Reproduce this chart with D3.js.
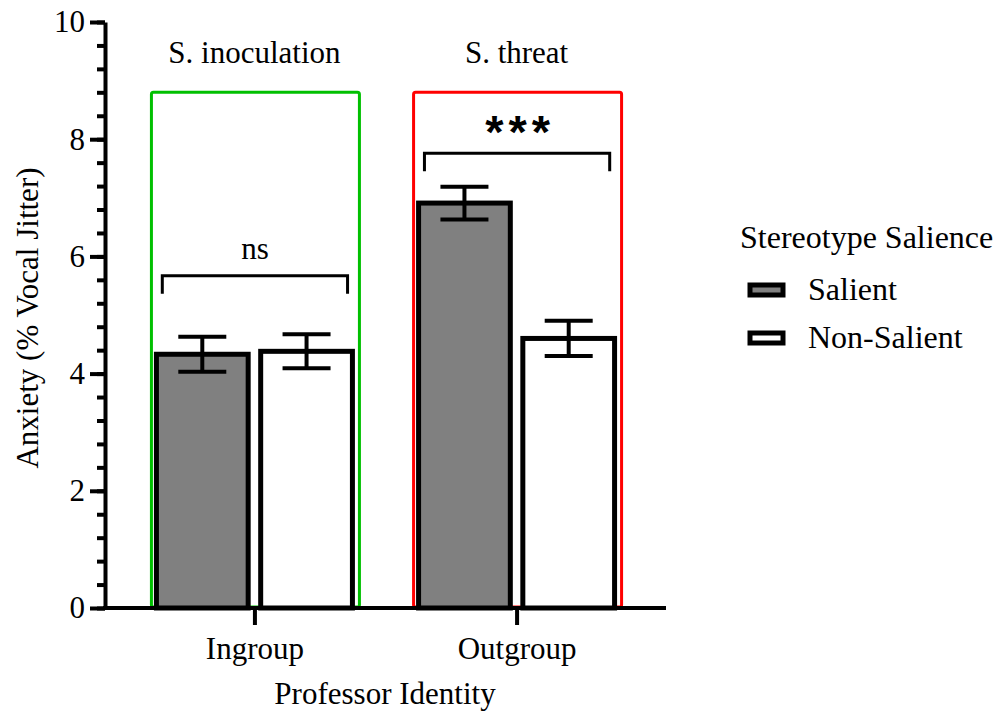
<!DOCTYPE html>
<html>
<head>
<meta charset="utf-8">
<script src="https://cdn.jsdelivr.net/npm/d3@7"></script>
<style>
  body { margin: 0; background: #fff; }
  svg { font-family: "Liberation Serif", "Times New Roman", serif; }
</style>
</head>
<body>
<div id="chart"></div>
<script>
// Data
const groups = ["Ingroup", "Outgroup"];
const conditions = ["Salient", "Non-Salient"];
const means = [[4.33, 4.38], [6.91, 4.60]];
const errors = [[0.30, 0.29], [0.28, 0.30]];
const groupTitles = ["S. inoculation", "S. threat"];
const sigLabels = ["ns", "***"];
const sigLevels = [5.67, 7.76];
const boxTop = 8.8;
const yTicks = [0, 2, 4, 6, 8, 10];

const width = 995, height = 711;
const fills = { "Salient": "#808080", "Non-Salient": "#ffffff" };
const boxColors = ["#00c000", "#ff0000"];
const serif = "'Liberation Serif', 'Times New Roman', serif";
const fs = "31px";

const svg = d3.select("#chart").append("svg")
    .attr("width", width)
    .attr("height", height);

// Scales
const y = d3.scaleLinear().domain([0, 10]).range([608, 22]);
const x = d3.scalePoint().domain(groups).range([105, 666]).padding(0.57);
const xSub = d3.scaleBand().domain(conditions).range([-98, 98]).paddingInner(0.12);

// Highlight boxes round each group
svg.append("g").selectAll("rect")
    .data(groups)
    .enter().append("rect")
    .attr("x", d => x(d) - 103)
    .attr("y", y(boxTop))
    .attr("width", 208)
    .attr("height", y(0) - y(boxTop) - 1)
    .attr("rx", 2)
    .attr("fill", "none")
    .attr("stroke", (d, i) => boxColors[i])
    .attr("stroke-width", 3);

// Group titles above boxes
svg.append("g").selectAll("text")
    .data(groups)
    .enter().append("text")
    .attr("x", d => x(d))
    .attr("y", 63)
    .attr("text-anchor", "middle")
    .style("font-size", fs)
    .text((d, i) => groupTitles[i]);

// Bars
const rows = [];
groups.forEach((g, gi) => conditions.forEach((c, ci) => {
    rows.push({ group: g, cond: c, mean: means[gi][ci], err: errors[gi][ci] });
}));

svg.append("g").selectAll("rect")
    .data(rows)
    .enter().append("rect")
    .attr("x", d => x(d.group) + xSub(d.cond))
    .attr("y", d => y(d.mean))
    .attr("width", xSub.bandwidth())
    .attr("height", d => y(0) - y(d.mean))
    .attr("fill", d => fills[d.cond])
    .attr("stroke", "#000")
    .attr("stroke-width", 5);

// Error bars
const eb = svg.append("g").attr("stroke", "#000").attr("stroke-width", 4);
rows.forEach(d => {
    const cx = x(d.group) + xSub(d.cond) + xSub.bandwidth() / 2;
    eb.append("line").attr("x1", cx).attr("x2", cx)
        .attr("y1", y(d.mean + d.err)).attr("y2", y(d.mean - d.err));
    [d.mean + d.err, d.mean - d.err].forEach(v => {
        eb.append("line").attr("x1", cx - 24).attr("x2", cx + 24)
            .attr("y1", y(v)).attr("y2", y(v));
    });
});

// Significance brackets
groups.forEach((g, i) => {
    const x1 = x(g) + xSub("Salient") + xSub.bandwidth() / 2 - 40;
    const x2 = x(g) + xSub("Non-Salient") + xSub.bandwidth() / 2 + 41;
    const yb = y(sigLevels[i]);
    svg.append("path")
        .attr("d", `M${x1},${yb + 18}V${yb}H${x2}V${yb + 18}`)
        .attr("fill", "none")
        .attr("stroke", "#000")
        .attr("stroke-width", 3);
    const t = svg.append("text")
        .attr("text-anchor", "middle")
        .text(sigLabels[i]);
    if (sigLabels[i] === "ns") {
        t.attr("x", (x1 + x2) / 2).attr("y", yb - 17).style("font-size", fs);
    } else {
        t.attr("x", (x1 + x2) / 2 + 3).attr("y", yb - 5)
            .style("font-size", "47px").style("font-weight", "bold")
            .style("letter-spacing", "5px")
            .style("font-family", "'Liberation Sans', Arial, sans-serif");
    }
});

// Y axis: major ticks with labels
const yAxis = svg.append("g")
    .attr("transform", "translate(105,0)")
    .call(d3.axisLeft(y).tickValues(yTicks).tickSize(15).tickSizeOuter(0).tickPadding(5))
    .attr("font-family", serif);
yAxis.select(".domain").attr("stroke-width", 4);
yAxis.selectAll(".tick line").attr("stroke-width", 4);
yAxis.selectAll(".tick text").style("font-size", fs).attr("fill", "#000");

// Y axis: minor ticks
svg.append("g")
    .attr("transform", "translate(105,0)")
    .call(d3.axisLeft(y).tickValues(d3.range(0, 10.01, 0.4)).tickSize(8).tickFormat(""))
    .call(g => g.select(".domain").remove())
    .selectAll(".tick line").attr("stroke-width", 4);

// X axis
const xAxis = svg.append("g")
    .attr("transform", `translate(0,${y(0)})`)
    .call(d3.axisBottom(x).tickSize(17).tickSizeOuter(0).tickPadding(12))
    .attr("font-family", serif);
xAxis.select(".domain").attr("stroke-width", 4).attr("d", "M103,0H666");
xAxis.selectAll(".tick line").attr("stroke-width", 4);
xAxis.selectAll(".tick text").style("font-size", fs).attr("fill", "#000");

// Axis titles
svg.append("text")
    .attr("x", 385)
    .attr("y", 704)
    .attr("text-anchor", "middle")
    .style("font-size", fs)
    .text("Professor Identity");

svg.append("text")
    .attr("transform", "rotate(-90)")
    .attr("x", -318)
    .attr("y", 38)
    .attr("text-anchor", "middle")
    .style("font-size", fs)
    .text("Anxiety (% Vocal Jitter)");

// Legend
const legend = svg.append("g").attr("transform", "translate(740,0)");
legend.append("text")
    .attr("x", 0)
    .attr("y", 248)
    .style("font-size", "32px")
    .text("Stereotype Salience");
conditions.forEach((c, i) => {
    const ly = 290 + i * 48;
    legend.append("rect")
        .attr("x", 10).attr("y", ly - 5)
        .attr("width", 33).attr("height", 10)
        .attr("fill", fills[c])
        .attr("stroke", "#000")
        .attr("stroke-width", 5);
    legend.append("text")
        .attr("x", 68).attr("y", ly + 10)
        .style("font-size", "32px")
        .text(c);
});
</script>
</body>
</html>
